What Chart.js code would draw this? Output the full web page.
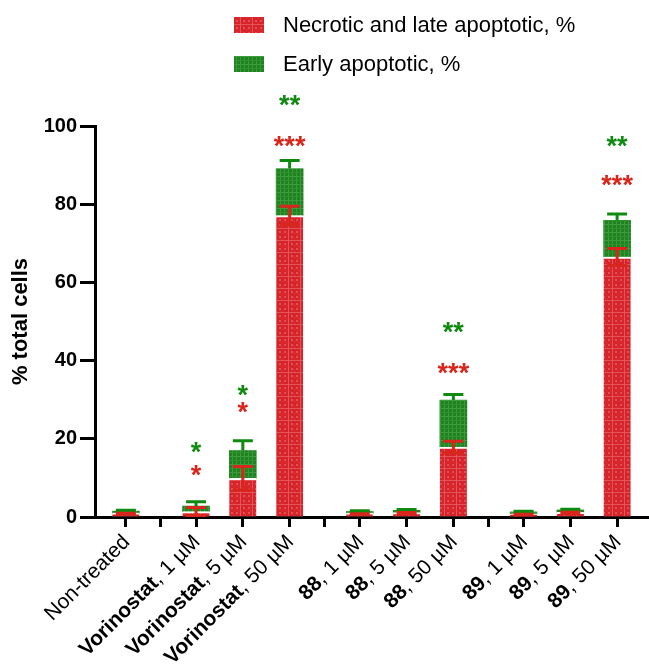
<!DOCTYPE html>
<html>
<head>
<meta charset="utf-8">
<script src="https://cdn.jsdelivr.net/npm/chart.js@4.4.1/dist/chart.umd.min.js"></script>
<style>
  html, body { margin: 0; padding: 0; background: #ffffff; }
  #wrap { width: 649px; height: 666px; position: relative; }
</style>
</head>
<body>
<div id="wrap"><canvas id="c" width="649" height="666"></canvas></div>
<script>
// ---------- data ----------
const compounds = ['Non-treated', 'Vorinostat', 'Vorinostat', 'Vorinostat', '88', '88', '88', '89', '89', '89'];
const doses     = ['', '1 µM', '5 µM', '50 µM', '1 µM', '5 µM', '50 µM', '1 µM', '5 µM', '50 µM'];
const groupOf   = [0, 1, 1, 1, 2, 2, 2, 3, 3, 3];

const necroticMean = [1.0, 1.4, 9.9, 77.1, 1.0, 1.1, 17.9, 0.8, 1.2, 66.5];
const necroticErr  = [0.3, 1.0, 3.0, 2.4, 0.3, 0.3, 1.5, 0.3, 0.3, 2.2];
const earlyMean    = [0.5, 1.4, 7.1, 12.0, 0.4, 0.6, 12.0, 0.5, 0.6, 9.4];
const earlyErr     = [0.2, 1.1, 2.5, 2.1, 0.2, 0.2, 1.4, 0.2, 0.2, 1.6];

const necroticStars = ['', '*', '*', '***', '', '', '***', '', '', '***'];
const necroticStarY = [0, 12.0, 27.9, 96.1, 0, 0, 37.9, 0, 0, 86.0];
const earlyStars    = ['', '*', '*', '**', '', '', '**', '', '', '**'];
const earlyStarY    = [0, 17.7, 32.3, 106.5, 0, 0, 48.4, 0, 0, 96.1];

const yTicks = [0, 20, 40, 60, 80, 100];
const seriesNames = ['Necrotic and late apoptotic, %', 'Early apoptotic, %'];

// ---------- derived positions (from group structure) ----------
const xPos = compounds.map((c, i) => i + 0.5 * groupOf[i]);
const gapTicks = [];
for (let i = 1; i < xPos.length; i++) {
  if (groupOf[i] !== groupOf[i - 1]) gapTicks.push((xPos[i] + xPos[i - 1]) / 2);
}
const allTicks = xPos.concat(gapTicks).sort((a, b) => a - b);

// ---------- patterns ----------
const RED = '#d6242a', GREEN = '#1f8420';
const RED_ERR = '#d8261c', GREEN_ERR = '#0f8a10';
function makePattern(kind) {
  const t = document.createElement('canvas');
  const g = t.getContext('2d');
  if (kind === 'red') {
    t.width = 12; t.height = 12;
    g.fillStyle = RED; g.fillRect(0, 0, 12, 12);
    g.fillStyle = '#e0545a';
    g.fillRect(0, 0, 12, 1); g.fillRect(0, 0, 1, 12);
    g.fillStyle = '#e05054';
    g.fillRect(3, 3, 2, 2); g.fillRect(8, 8, 2, 2); g.fillRect(3, 8, 2, 2); g.fillRect(8, 3, 2, 2);
    g.fillStyle = '#dc3d41';
    g.fillRect(6, 5, 1, 1); g.fillRect(5, 10, 1, 1); g.fillRect(10, 6, 1, 1);
  } else {
    t.width = 8; t.height = 8;
    g.fillStyle = GREEN; g.fillRect(0, 0, 8, 8);
    g.fillStyle = '#3e9a3e';
    g.fillRect(0, 0, 1, 8); g.fillRect(4, 0, 1, 8);
    g.fillRect(0, 0, 8, 1);
    g.fillStyle = '#2f902f';
    g.fillRect(0, 4, 8, 1);
  }
  const ctx = document.getElementById('c').getContext('2d');
  return ctx.createPattern(t, 'repeat');
}
const redPat = makePattern('red');
const greenPat = makePattern('green');

const FONT = '"Liberation Sans", Arial, Helvetica, sans-serif';

// ---------- plugins ----------
const errStarPlugin = {
  id: 'errStar',
  afterDatasetsDraw(chart) {
    const ctx = chart.ctx;
    const ys = chart.scales.y;
    const sets = [
      { meta: chart.getDatasetMeta(0), top: necroticMean, err: necroticErr, color: RED_ERR, both: true },
      { meta: chart.getDatasetMeta(1), top: necroticMean.map((v, i) => v + earlyMean[i]), err: earlyErr, color: GREEN_ERR, both: false }
    ];
    ctx.save();
    sets.forEach(s => {
      s.meta.data.forEach((bar, i) => {
        const x = bar.x;
        const yHi = ys.getPixelForValue(s.top[i] + s.err[i]);
        const yLo = s.both ? ys.getPixelForValue(Math.max(0, s.top[i] - s.err[i])) : ys.getPixelForValue(s.top[i]);
        ctx.strokeStyle = s.color;
        ctx.lineWidth = 3;
        ctx.beginPath();
        ctx.moveTo(x, yHi); ctx.lineTo(x, yLo);
        ctx.moveTo(x - 10, yHi); ctx.lineTo(x + 10, yHi);
        if (s.both) { ctx.moveTo(x - 10, yLo); ctx.lineTo(x + 10, yLo); }
        ctx.stroke();
      });
    });
    // significance stars
    ctx.font = 'bold 27px ' + FONT;
    ctx.textAlign = 'center';
    ctx.textBaseline = 'alphabetic';
    const meta0 = chart.getDatasetMeta(0);
    const drawStars = (labels, yv, color) => {
      labels.forEach((s, i) => {
        if (!s) return;
        const m = ctx.measureText(s);
        const cy = ys.getPixelForValue(yv[i]);
        const base = cy + (m.actualBoundingBoxAscent - m.actualBoundingBoxDescent) / 2;
        ctx.fillStyle = color;
        ctx.fillText(s, meta0.data[i].x, base);
      });
    };
    drawStars(necroticStars, necroticStarY, RED_ERR);
    drawStars(earlyStars, earlyStarY, GREEN_ERR);
    ctx.restore();
  },
  afterDraw(chart) {
    const ctx = chart.ctx;
    const xs = chart.scales.x;
    const axisY = chart.scales.y.getPixelForValue(0);
    ctx.save();
    // rotated x labels with mixed weight
    compounds.forEach((c, i) => {
      const x = xs.getPixelForValue(xPos[i]);
      ctx.save();
      ctx.translate(x + 5, axisY + 26);
      ctx.rotate(-Math.PI / 4);
      ctx.textAlign = 'right';
      ctx.textBaseline = 'alphabetic';
      ctx.fillStyle = '#000';
      if (!doses[i]) {
        ctx.font = '21px ' + FONT;
        ctx.fillText(c, 0, 0);
      } else {
        const rest = ', ' + doses[i];
        ctx.font = '21px ' + FONT;
        const w = ctx.measureText(rest).width;
        ctx.fillText(rest, 0, 0);
        ctx.font = 'bold 21px ' + FONT;
        ctx.fillText(c, -w, 0);
      }
      ctx.restore();
    });
    // legend
    const pats = [redPat, greenPat];
    const rows = [25, 64];
    ctx.font = '22px ' + FONT;
    ctx.textAlign = 'left';
    ctx.textBaseline = 'middle';
    seriesNames.forEach((n, k) => {
      ctx.fillStyle = pats[k];
      ctx.fillRect(234, rows[k] - 8, 30, 16);
      ctx.fillStyle = '#000';
      ctx.fillText(n, 283, rows[k] + 1);
    });
    ctx.restore();
  }
};

// ---------- chart ----------
new Chart(document.getElementById('c'), {
  type: 'bar',
  data: {
    datasets: [
      {
        label: seriesNames[0],
        data: xPos.map((x, i) => ({ x: x, y: necroticMean[i] })),
        backgroundColor: redPat,
        borderColor: '#ffffff',
        borderWidth: { top: 2, left: 0, right: 0, bottom: 0 },
        borderSkipped: 'bottom',
        barThickness: 27
      },
      {
        label: seriesNames[1],
        data: xPos.map((x, i) => ({ x: x, y: earlyMean[i] })),
        backgroundColor: greenPat,
        borderWidth: 0,
        barThickness: 27
      }
    ]
  },
  options: {
    responsive: false,
    animation: false,
    devicePixelRatio: 1,
    layout: { padding: { top: 126, right: 1, left: 0, bottom: 0 } },
    plugins: { legend: { display: false }, tooltip: { enabled: false } },
    scales: {
      x: {
        type: 'linear',
        stacked: true,
        min: -0.66,
        max: 11.16,
        offset: false,
        afterBuildTicks(scale) { scale.ticks = allTicks.map(v => ({ value: v })); },
        afterFit(scale) { scale.height = 666 - 126 - 391; },
        ticks: { callback: () => '', autoSkip: false, maxRotation: 0 },
        grid: { display: true, offset: false, drawOnChartArea: false, drawTicks: true, tickLength: 10, tickWidth: 3, color: '#000' },
        border: { display: true, color: '#000', width: 3 }
      },
      y: {
        stacked: true,
        min: 0,
        max: 100,
        afterBuildTicks(scale) { scale.ticks = yTicks.map(v => ({ value: v })); },
        afterFit(scale) { scale.width = 95; },
        ticks: { color: '#000', font: { family: FONT, size: 20, weight: 'bold' }, padding: 3 },
        grid: { display: true, drawOnChartArea: false, drawTicks: true, tickLength: 15, tickWidth: 3, color: '#000' },
        border: { display: true, color: '#000', width: 3 },
        title: { display: true, text: '% total cells', color: '#000', font: { family: FONT, size: 22, weight: 'bold' }, padding: { top: 8, bottom: 0 } }
      }
    }
  },
  plugins: [errStarPlugin]
});
</script>
</body>
</html>
